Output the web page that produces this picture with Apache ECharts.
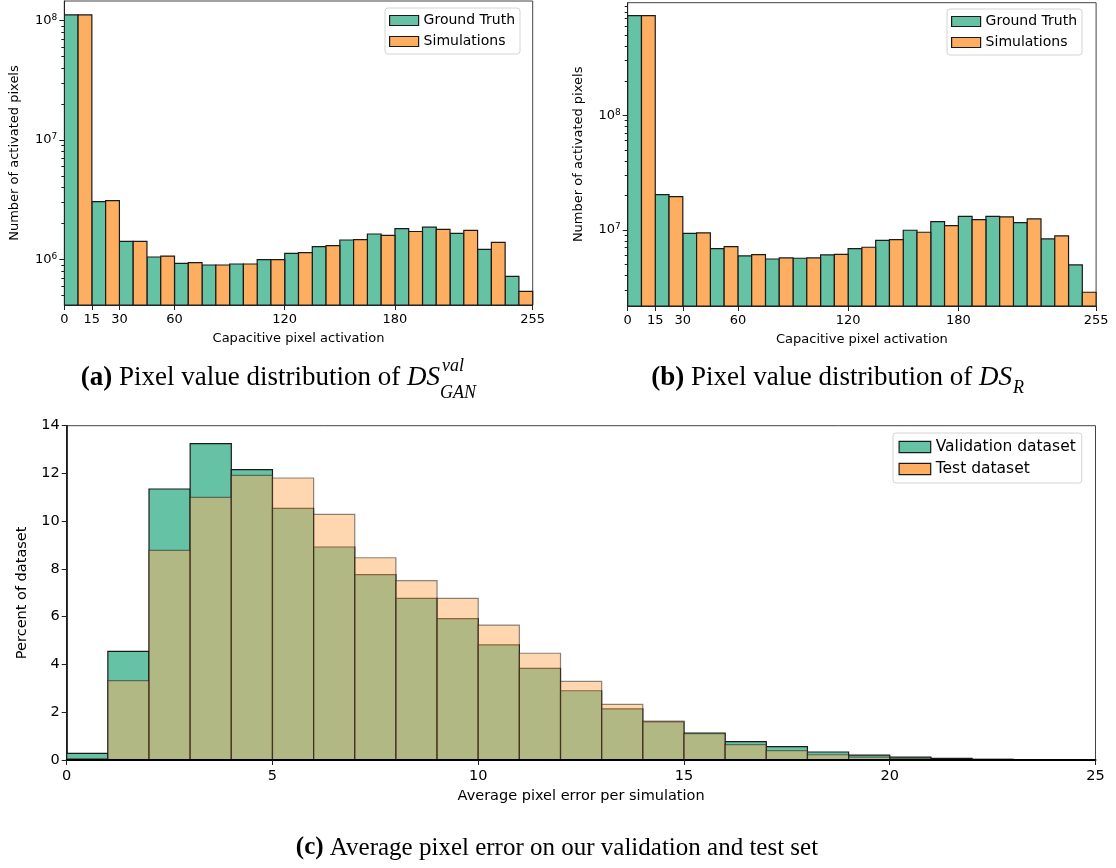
<!DOCTYPE html>
<html>
<head>
<meta charset="utf-8">
<script src="https://cdn.jsdelivr.net/npm/echarts@6/dist/echarts.min.js"></script>
<style>
  html, body { margin: 0; padding: 0; background: #fff; }
  #chart { width: 1116px; height: 868px; }
</style>
</head>
<body>
<div id="chart"></div>
<script>
// (a) / (b): 17 bins of width 15, each split into a ground-truth bar and a simulation bar
const binStartsAB = [0, 15, 30, 45, 60, 75, 90, 105, 120, 135, 150, 165, 180, 195, 210, 225, 240];
const xTicksAB = [0, 15, 30, 60, 120, 180, 255];

const gtGan = [1.11e8, 3.04e6, 1.415e6, 1.046e6, 0.926e6, 0.897e6, 0.914e6, 0.994e6, 1.122e6,
  1.276e6, 1.451e6, 1.629e6, 1.806e6, 1.86e6, 1.65e6, 1.21e6, 0.72e6];
const simGan = [1.11e8, 3.10e6, 1.415e6, 1.066e6, 0.938e6, 0.897e6, 0.914e6, 0.994e6, 1.137e6,
  1.301e6, 1.46e6, 1.588e6, 1.71e6, 1.78e6, 1.748e6, 1.387e6, 0.54e6];

const gtR = [7.4e8, 2.03e7, 9.35e6, 6.87e6, 5.93e6, 5.58e6, 5.66e6, 6.05e6, 6.87e6,
  8.12e6, 9.94e6, 1.18e7, 1.315e7, 1.315e7, 1.158e7, 8.35e6, 4.95e6];
const simR = [7.4e8, 1.953e7, 9.42e6, 7.16e6, 6.09e6, 5.70e6, 5.70e6, 6.13e6, 7.06e6,
  8.23e6, 9.55e6, 1.09e7, 1.23e7, 1.298e7, 1.247e7, 8.87e6, 2.86e6];

// (c): bins of width 1 from 0 to 25, percent of dataset
const binStartsC = [0, 1, 2, 3, 4, 5, 6, 7, 8, 9, 10, 11, 12, 13, 14, 15, 16, 17, 18, 19, 20, 21, 22, 23, 24];
const validationPct = [0.28, 4.55, 11.35, 13.25, 12.16, 10.54, 8.92, 7.76, 6.77, 5.92, 4.82, 3.84, 2.90,
  2.14, 1.60, 1.13, 0.77, 0.56, 0.335, 0.2, 0.12, 0.07, 0.03, 0.015, 0.01];
const testPct = [0.06, 3.32, 8.78, 11.0, 11.92, 11.81, 10.29, 8.47, 7.51, 6.77, 5.65, 4.47, 3.29,
  2.33, 1.63, 1.10, 0.64, 0.39, 0.22, 0.12, 0.07, 0.04, 0.03, 0.02, 0.01];

const GREEN = '#66c2a5';
const ORANGE = '#fdae61';
const FONT = 'DejaVu Sans';
const A_MIN = 4.15e5, A_MAX = 1.45e8;
const B_MIN = 2.17e6, B_MAX = 9.6e8;

function pairBars(values, offset) {
  return binStartsAB.map((s, i) => [s + offset, s + offset + 7.5, values[i]]);
}
function unitBars(values) {
  return binStartsC.map((s, i) => [s, s + 1, values[i]]);
}
function minorTicks(lo, hi) {
  const out = [];
  for (let d = 1e5; d < 1e10; d *= 10) {
    for (let m = 2; m <= 9; m++) {
      const v = m * d;
      if (v > lo && v < hi) out.push(v);
    }
  }
  return out;
}

function histBar(bottom, style) {
  return function (params, api) {
    const top = api.coord([api.value(0), api.value(2)]);
    const base = api.coord([api.value(1), bottom]);
    return {
      type: 'rect',
      shape: { x: top[0], y: top[1], width: base[0] - top[0], height: base[1] - top[1] },
      style: style
    };
  };
}

const edge = { stroke: '#1a1a1a', lineWidth: 1.2 };

function logLabel(v) {
  return '10{s|' + Math.round(Math.log10(v)) + '}';
}

function xAxisAB(gridIndex) {
  return {
    type: 'value', gridIndex: gridIndex, min: 0, max: 255,
    name: 'Capacitive pixel activation', nameLocation: 'middle', nameGap: 27,
    nameTextStyle: { fontFamily: FONT, fontSize: 13, color: '#000' },
    axisLine: { show: true, lineStyle: { color: '#222', width: 1 } },
    axisTick: { show: true, length: 5, customValues: xTicksAB, lineStyle: { color: '#222' } },
    axisLabel: { customValues: xTicksAB, margin: 8, fontFamily: FONT, fontSize: 13, color: '#000' },
    splitLine: { show: false }
  };
}

function yAxisLog(gridIndex, min, max, majors) {
  return {
    type: 'log', gridIndex: gridIndex, position: 'left', min: min, max: max,
    name: 'Number of activated pixels', nameLocation: 'middle', nameGap: 43,
    nameTextStyle: { fontFamily: FONT, fontSize: 13, color: '#000' },
    axisLine: { show: true, lineStyle: { color: '#222', width: 1 } },
    axisTick: { show: true, length: 5, customValues: majors, lineStyle: { color: '#222' } },
    axisLabel: {
      customValues: majors, margin: 7, formatter: logLabel,
      fontFamily: FONT, fontSize: 13, color: '#000',
      rich: { s: { fontFamily: FONT, fontSize: 9, color: '#000', verticalAlign: 'top', padding: [0, 0, 6, 0] } }
    },
    splitLine: { show: false }
  };
}

// log minor ticks (2..9 x 10^n) on a second, label-less axis
function yAxisMinor(gridIndex, min, max) {
  return {
    type: 'log', gridIndex: gridIndex, position: 'left', offset: 0, min: min, max: max,
    axisLine: { show: false },
    axisTick: { show: true, length: 3, customValues: minorTicks(min, max), lineStyle: { color: '#222', width: 1 } },
    axisLabel: { show: false },
    splitLine: { show: false }
  };
}

const legendCommon = {
  orient: 'vertical', icon: 'rect', selectedMode: false,
  itemWidth: 29, itemHeight: 10, itemGap: 6, itemTextGap: 11,
  padding: [5, 5, 5, 4],
  backgroundColor: 'rgba(255,255,255,0.8)', borderColor: '#d4d4d4', borderWidth: 1, borderRadius: 3,
  itemStyle: { borderColor: '#1a1a1a', borderWidth: 1.2 },
  textStyle: { fontFamily: FONT, fontSize: 14, lineHeight: 15, color: '#000' }
};

const CAP_FONT = 'Liberation Serif';
const capRich = {
  b: { fontFamily: CAP_FONT, fontSize: 27, fontWeight: 'bold' },
  i: { fontFamily: CAP_FONT, fontSize: 27, fontStyle: 'italic' }
};

const option = {
  animation: false,
  backgroundColor: '#fff',
  grid: [
    { left: 64.3, top: 1, width: 468.4, height: 304, show: true, borderColor: '#444', borderWidth: 1, backgroundColor: 'transparent', outerBoundsMode: 'none' },
    { left: 627.7, top: 2.7, width: 468.4, height: 303.3, show: true, borderColor: '#444', borderWidth: 1, backgroundColor: 'transparent', outerBoundsMode: 'none' },
    { left: 66.7, top: 425.7, width: 1028.8, height: 334.3, show: true, borderColor: '#444', borderWidth: 1, backgroundColor: 'transparent', outerBoundsMode: 'none' }
  ],
  xAxis: [
    xAxisAB(0),
    xAxisAB(1),
    {
      type: 'value', gridIndex: 2, min: 0, max: 25, interval: 5, z: 5,
      name: 'Average pixel error per simulation', nameLocation: 'middle', nameGap: 29,
      nameTextStyle: { fontFamily: FONT, fontSize: 14.5, color: '#000' },
      axisLine: { show: true, lineStyle: { color: '#000', width: 2 } },
      axisTick: { show: true, length: 5, lineStyle: { color: '#222' } },
      axisLabel: { margin: 9, fontFamily: FONT, fontSize: 14.5, color: '#000' },
      splitLine: { show: false }
    }
  ],
  yAxis: [
    yAxisLog(0, A_MIN, A_MAX, [1e6, 1e7, 1e8]),
    yAxisMinor(0, A_MIN, A_MAX),
    yAxisLog(1, B_MIN, B_MAX, [1e7, 1e8]),
    yAxisMinor(1, B_MIN, B_MAX),
    {
      type: 'value', gridIndex: 2, min: 0, max: 14, interval: 2,
      name: 'Percent of dataset', nameLocation: 'middle', nameGap: 37,
      nameTextStyle: { fontFamily: FONT, fontSize: 14.5, color: '#000' },
      axisLine: { show: true, lineStyle: { color: '#000', width: 1.5 } },
      axisTick: { show: true, length: 5, lineStyle: { color: '#222' } },
      axisLabel: { margin: 7, fontFamily: FONT, fontSize: 14.5, color: '#000' },
      splitLine: { show: false }
    }
  ],
  legend: [
    Object.assign({}, legendCommon, {
      left: 385, top: 8,
      data: [{ name: 'Ground Truth', itemStyle: { color: GREEN } }, { name: 'Simulations', itemStyle: { color: ORANGE } }]
    }),
    Object.assign({}, legendCommon, {
      left: 947, top: 9,
      data: [{ name: 'Ground Truth', itemStyle: { color: GREEN } }, { name: 'Simulations', itemStyle: { color: ORANGE } }]
    }),
    Object.assign({}, legendCommon, {
      left: 893, top: 433, itemWidth: 31.6, itemHeight: 11.3, itemGap: 6, itemTextGap: 12,
      padding: [6, 6, 6, 5.5],
      textStyle: { fontFamily: FONT, fontSize: 15.5, lineHeight: 16, color: '#000' },
      data: [{ name: 'Validation dataset', itemStyle: { color: GREEN } }, { name: 'Test dataset', itemStyle: { color: ORANGE, opacity: 1 } }]
    })
  ],
  series: [
    { type: 'custom', name: 'Ground Truth', xAxisIndex: 0, yAxisIndex: 0, clip: true, itemStyle: { color: GREEN },
      encode: { x: [0, 1], y: 2 }, data: pairBars(gtGan, 0),
      renderItem: histBar(A_MIN, Object.assign({ fill: GREEN }, edge)) },
    { type: 'custom', name: 'Simulations', xAxisIndex: 0, yAxisIndex: 0, clip: true, itemStyle: { color: ORANGE },
      encode: { x: [0, 1], y: 2 }, data: pairBars(simGan, 7.5),
      renderItem: histBar(A_MIN, Object.assign({ fill: ORANGE }, edge)) },
    { type: 'custom', name: 'Ground Truth', xAxisIndex: 1, yAxisIndex: 2, clip: true, itemStyle: { color: GREEN },
      encode: { x: [0, 1], y: 2 }, data: pairBars(gtR, 0),
      renderItem: histBar(B_MIN, Object.assign({ fill: GREEN }, edge)) },
    { type: 'custom', name: 'Simulations', xAxisIndex: 1, yAxisIndex: 2, clip: true, itemStyle: { color: ORANGE },
      encode: { x: [0, 1], y: 2 }, data: pairBars(simR, 7.5),
      renderItem: histBar(B_MIN, Object.assign({ fill: ORANGE }, edge)) },
    { type: 'custom', name: 'Validation dataset', xAxisIndex: 2, yAxisIndex: 4, clip: true, itemStyle: { color: GREEN },
      encode: { x: [0, 1], y: 2 }, data: unitBars(validationPct),
      renderItem: histBar(0, Object.assign({ fill: GREEN }, edge)) },
    { type: 'custom', name: 'Test dataset', xAxisIndex: 2, yAxisIndex: 4, clip: true, itemStyle: { color: ORANGE },
      encode: { x: [0, 1], y: 2 }, data: unitBars(testPct),
      renderItem: histBar(0, Object.assign({ fill: ORANGE, opacity: 0.5 }, edge)) }
  ],
  graphic: [
    { type: 'text', x: 440, y: 378, style: {
      text: '{b|(a)} Pixel value distribution of {i|DS}', align: 'right', verticalAlign: 'middle',
      fontFamily: CAP_FONT, fontSize: 27, fill: '#000', rich: capRich
    } },
    { type: 'text', x: 442, y: 366, style: { text: 'val', align: 'left', verticalAlign: 'middle', fontFamily: CAP_FONT, fontSize: 18, fontStyle: 'italic', fill: '#000' } },
    { type: 'text', x: 440, y: 393, style: { text: 'GAN', align: 'left', verticalAlign: 'middle', fontFamily: CAP_FONT, fontSize: 18, fontStyle: 'italic', fill: '#000' } },
    { type: 'text', x: 1012, y: 378, style: {
      text: '{b|(b)} Pixel value distribution of {i|DS}', align: 'right', verticalAlign: 'middle',
      fontFamily: CAP_FONT, fontSize: 27, fill: '#000', rich: capRich
    } },
    { type: 'text', x: 1013, y: 388, style: { text: 'R', align: 'left', verticalAlign: 'middle', fontFamily: CAP_FONT, fontSize: 18, fontStyle: 'italic', fill: '#000' } },
    { type: 'text', x: 557, y: 848, style: {
      text: '{b|(c)} Average pixel error on our validation and test set', align: 'center', verticalAlign: 'middle',
      fontFamily: CAP_FONT, fontSize: 25, fill: '#000',
      rich: { b: { fontFamily: CAP_FONT, fontSize: 25, fontWeight: 'bold' } }
    } }
  ]
};

const chart = echarts.init(document.getElementById('chart'));
chart.setOption(option);
window.addEventListener('resize', function () {
  chart.resize();
});
</script>
</body>
</html>
